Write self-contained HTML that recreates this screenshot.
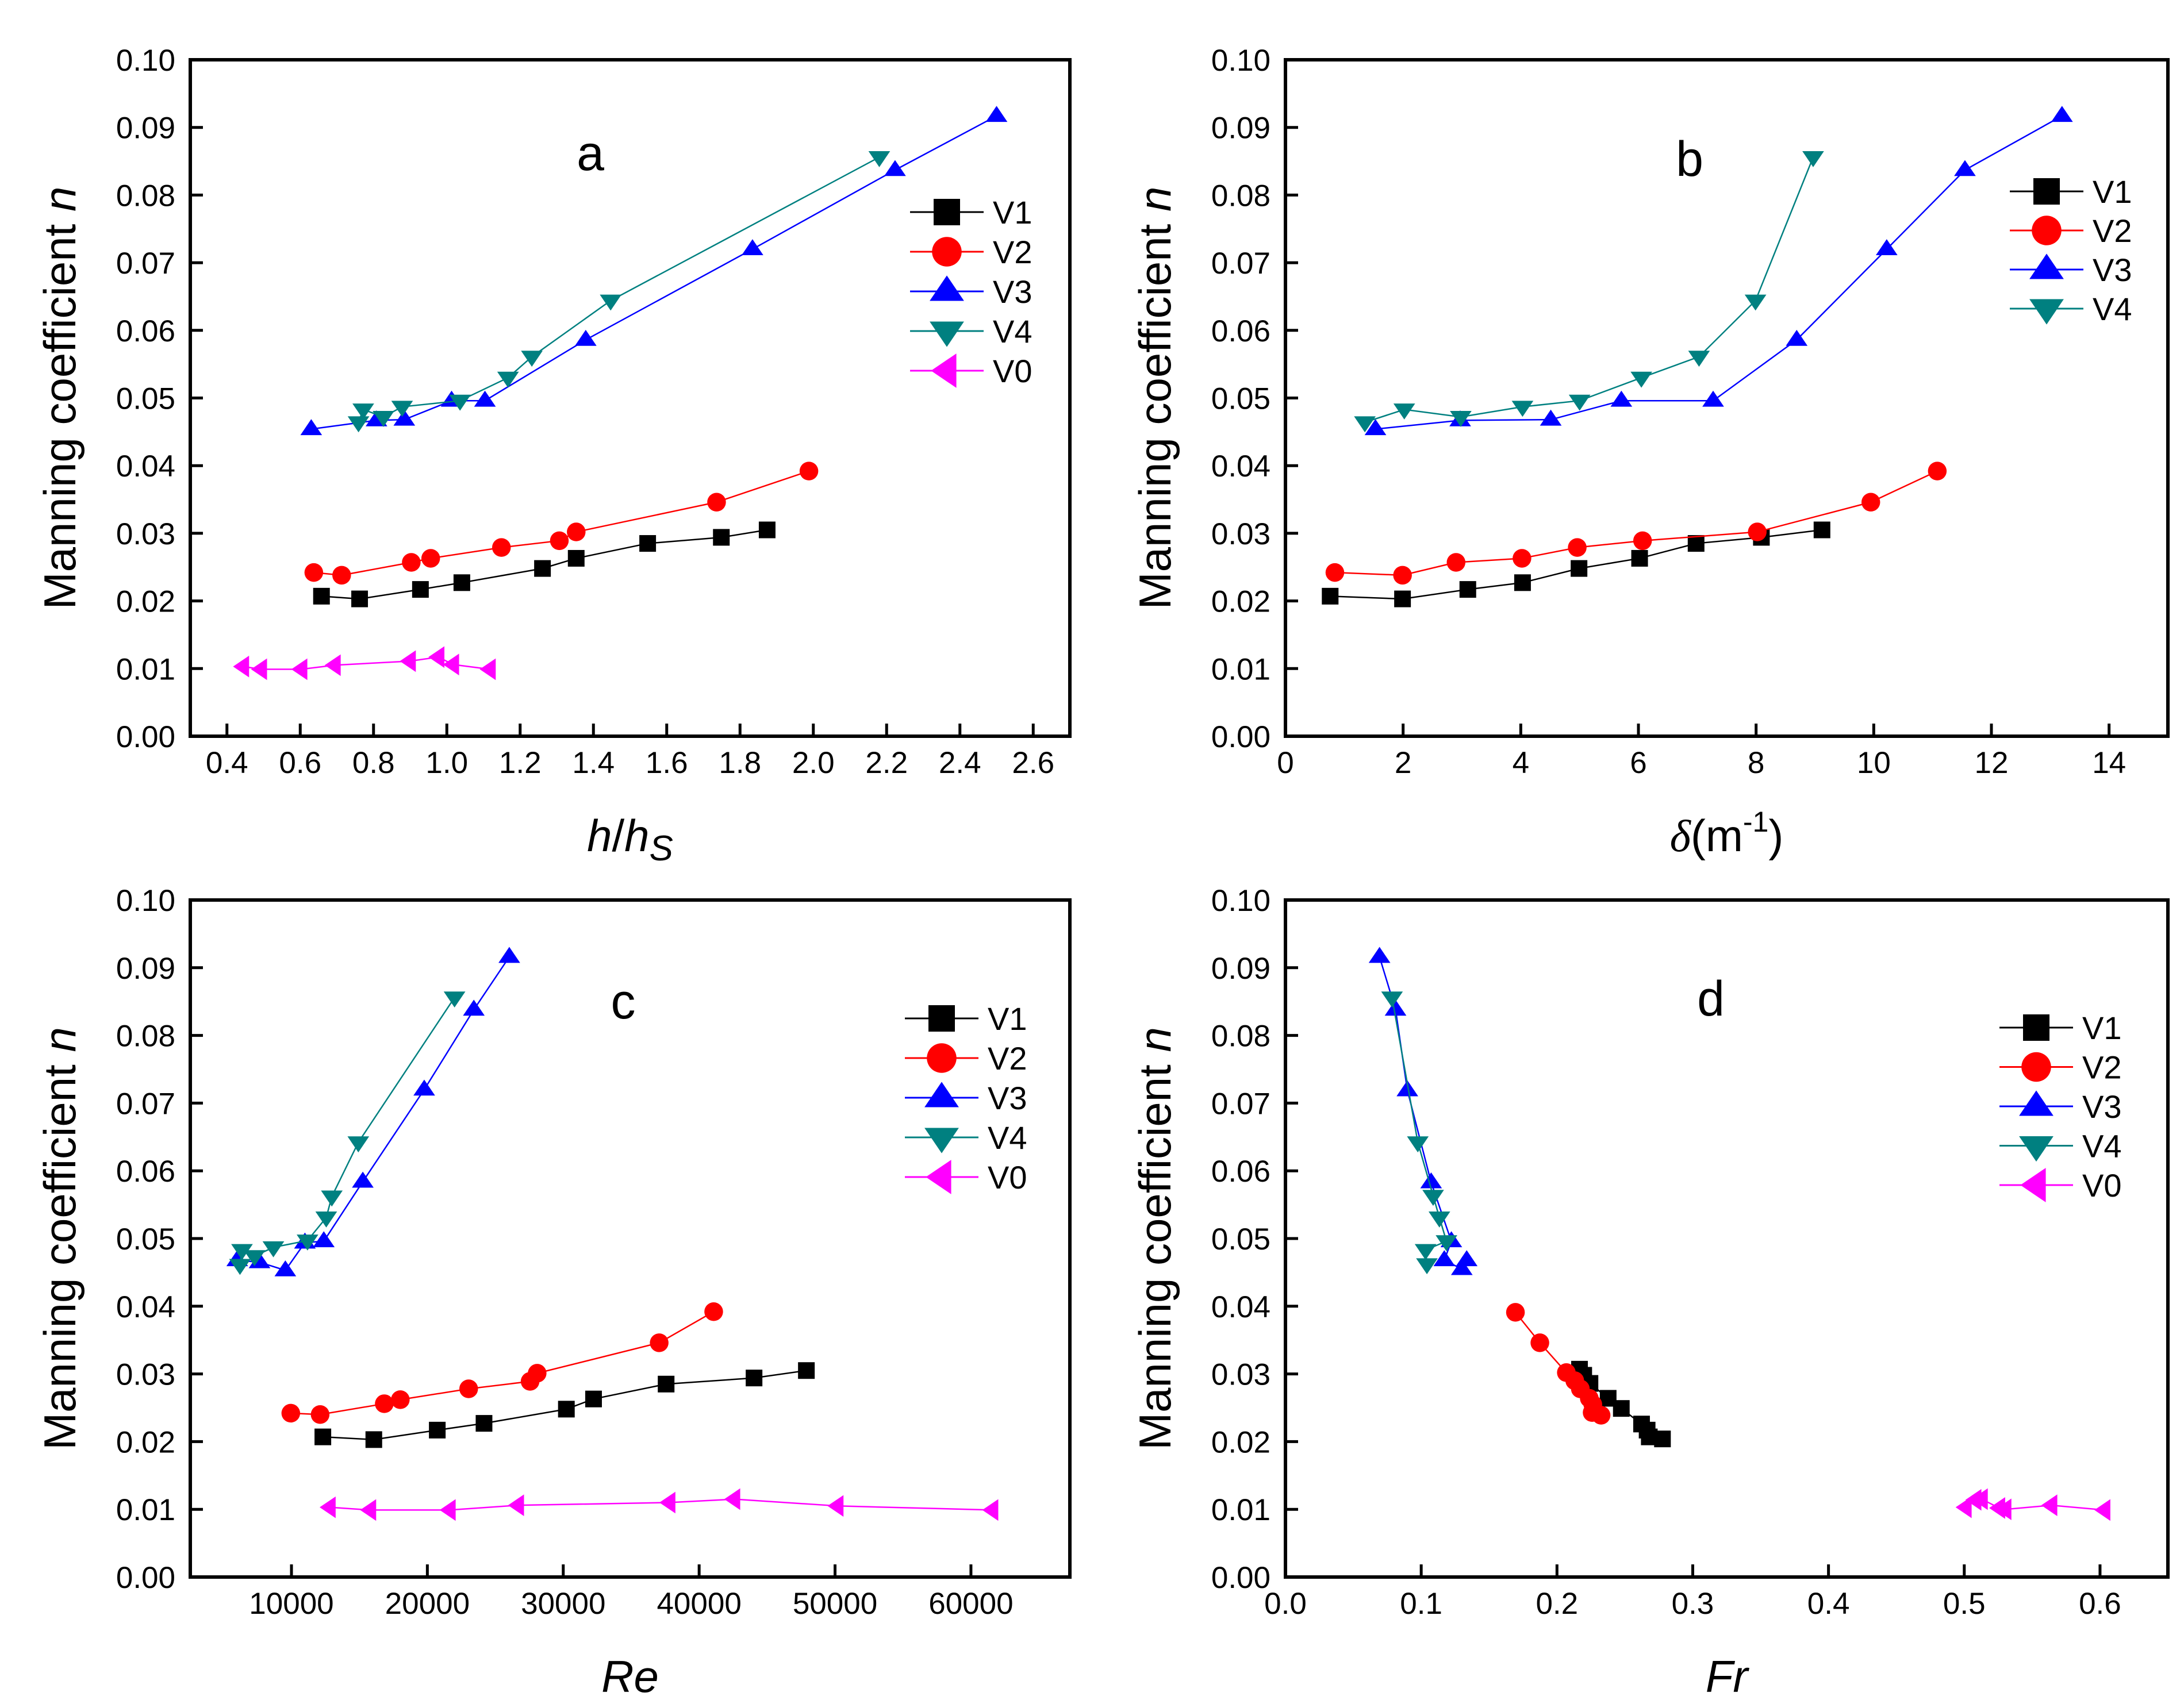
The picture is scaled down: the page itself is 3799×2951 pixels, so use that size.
<!DOCTYPE html>
<html><head><meta charset="utf-8"><style>
html,body{margin:0;padding:0;background:#fff}
svg{display:block}
text{font-family:"Liberation Sans",Arial,sans-serif}
</style></head><body>
<svg id="chart" width="3799" height="2951" viewBox="0 0 3799 2951" xmlns="http://www.w3.org/2000/svg"></svg>
<script>
// ---------- data ----------
// Panel a: n vs h/hs
const aV1x=[0.658,0.762,0.928,1.041,1.261,1.353,1.548,1.749,1.874];
const aV2x=[0.637,0.713,0.903,0.956,1.149,1.307,1.353,1.736,1.988];
const aV3x=[0.630,0.808,0.884,1.013,1.104,1.379,1.834,2.223,2.500];
const aV4x=[0.759,0.772,0.827,0.878,1.036,1.167,1.232,1.447,2.180];
const aV0x=[0.444,0.493,0.603,0.694,0.899,0.977,1.017,1.117];
const nV1=[0.0207,0.0203,0.0217,0.0227,0.0248,0.0263,0.0285,0.0294,0.0305];
const nV2=[0.0242,0.0238,0.0257,0.0263,0.0279,0.0289,0.0302,0.0346,0.0392];
const nV3=[0.0454,0.0467,0.0468,0.0496,0.0496,0.0586,0.0720,0.0837,0.0917];
const nV4=[0.0464,0.0483,0.0472,0.0487,0.0496,0.0530,0.0561,0.0644,0.0856];
const nV0=[0.0103,0.0099,0.0099,0.0105,0.0111,0.0117,0.0106,0.0099];
// Panel b: n vs delta
const bV1x=[0.76,1.99,3.10,4.03,4.99,6.02,6.98,8.09,9.12];
const bV2x=[0.84,1.99,2.90,4.02,4.96,6.07,8.02,9.95,11.08];
const bV3x=[1.53,2.97,4.51,5.71,7.27,8.69,10.22,11.55,13.20];
const bV4x=[1.35,2.02,2.98,4.03,5.00,6.05,7.03,7.99,8.97];
// Panel c: n vs Re
const cV1x=[12310,16060,20730,24170,30230,32230,37570,44040,47890];
const cV2x=[9950,12110,16830,18010,23040,27560,28080,37060,41070];
const cV2y=[0.0242,0.0240,0.0256,0.0262,0.0278,0.0289,0.0301,0.0346,0.0392];
const cV3x=[6010,7650,9550,10990,12380,15250,19770,23420,26030];
const cV3y=[0.0468,0.0465,0.0453,0.0494,0.0496,0.0584,0.0720,0.0838,0.0916];
const cV4x=[6210,6360,7280,8670,11180,12560,12970,14920,22000];
const cV4y=[0.0461,0.0483,0.0474,0.0487,0.0497,0.0531,0.0562,0.0642,0.0856];
const cV0x=[12810,15790,21640,26670,37810,42580,50180,61570];
const cV0y=[0.0103,0.0099,0.0099,0.0106,0.0110,0.0115,0.0105,0.0099];
// Panel d: n vs Fr
const dV1x=[0.2166,0.2197,0.2243,0.2377,0.2474,0.2623,0.2664,0.2680,0.2777];
const dV1y=[0.0307,0.0298,0.0286,0.0264,0.0249,0.0226,0.0217,0.0207,0.0204];
const dV2x=[0.1694,0.1874,0.2069,0.2131,0.2172,0.2238,0.2264,0.2259,0.2325];
const dV2y=[0.0391,0.0346,0.0302,0.0290,0.0278,0.0264,0.0255,0.0243,0.0239];
const dV3x=[0.0693,0.0811,0.0898,0.1073,0.1222,0.1170,0.1299,0.1335];
const dV3y=[0.0916,0.0838,0.0719,0.0583,0.0496,0.0468,0.0455,0.0468];
const dV4x=[0.0785,0.0975,0.1088,0.1134,0.1186,0.1032,0.1042];
const dV4y=[0.0856,0.0642,0.0563,0.0531,0.0496,0.0483,0.0462];
const dV0x=[0.5010,0.5082,0.5129,0.5257,0.5303,0.5641,0.6032];
const dV0y=[0.0103,0.0114,0.0115,0.0102,0.0100,0.0106,0.0099];
// ticks
const yTicks=[0,0.01,0.02,0.03,0.04,0.05,0.06,0.07,0.08,0.09,0.10];
const yTickLabels=["0.00","0.01","0.02","0.03","0.04","0.05","0.06","0.07","0.08","0.09","0.10"];
const aTicks=[0.4,0.6,0.8,1.0,1.2,1.4,1.6,1.8,2.0,2.2,2.4,2.6];
const aTickLabels=["0.4","0.6","0.8","1.0","1.2","1.4","1.6","1.8","2.0","2.2","2.4","2.6"];
const bTicks=[0,2,4,6,8,10,12,14];
const bTickLabels=["0","2","4","6","8","10","12","14"];
const cTicks=[10000,20000,30000,40000,50000,60000];
const cTickLabels=["10000","20000","30000","40000","50000","60000"];
const dTicks=[0,0.1,0.2,0.3,0.4,0.5,0.6];
const dTickLabels=["0.0","0.1","0.2","0.3","0.4","0.5","0.6"];

const NS="http://www.w3.org/2000/svg";
const svg=document.getElementById('chart');
function mk(tag,attrs,parent){const e=document.createElementNS(NS,tag);for(const k in attrs)e.setAttribute(k,attrs[k]);(parent||svg).appendChild(e);return e;}
const COLORS={V1:"#000000",V2:"#ff0000",V3:"#0000ff",V4:"#008080",V0:"#ff00ff"};
function marker(type,cx,cy,s,color,parent){
  let e;
  if(type==='V1'){e=mk('rect',{x:cx-s/2,y:cy-s/2,width:s,height:s,fill:color},parent);}
  else if(type==='V2'){e=mk('circle',{cx:cx,cy:cy,r:s*0.56,fill:color},parent);}
  else if(type==='V3'){const w=s*0.65,h=s*0.6;e=mk('polygon',{points:`${cx},${cy-h} ${cx-w},${cy+h*0.6} ${cx+w},${cy+h*0.6}`,fill:color},parent);}
  else if(type==='V4'){const w=s*0.65,h=s*0.6;e=mk('polygon',{points:`${cx},${cy+h} ${cx-w},${cy-h*0.6} ${cx+w},${cy-h*0.6}`,fill:color},parent);}
  else {const w=s*0.6,h=s*0.65;e=mk('polygon',{points:`${cx-w},${cy} ${cx+w*0.6},${cy-h} ${cx+w*0.6},${cy+h}`,fill:color},parent);}
  return e;
}
function panel(p){
  const g=mk('g',{});
  
  
  const X=v=>p.L+(v-p.xmin)/(p.xmax-p.xmin)*(p.R-p.L);
  const Y=v=>p.B-(v-0)/(0.1-0)*(p.B-p.T);
  yTicks.forEach((t,i)=>{
    const ln=mk('line',{x1:p.L,x2:p.L+22,y1:Y(t),y2:Y(t),stroke:'#000','stroke-width':5},g);
    
    
    const tx=mk('text',{x:p.L-26,y:Y(t)+19,'font-size':53,'text-anchor':'end'},g);
    tx.textContent=yTickLabels[i];
    
    
  });
  p.ticks.forEach((t,i)=>{
    const ln=mk('line',{x1:X(t),x2:X(t),y1:p.B,y2:p.B-22,stroke:'#000','stroke-width':5},g);
    
    
    const tx=mk('text',{x:X(t),y:p.B+64,'font-size':53,'text-anchor':'middle'},g);
    tx.textContent=p.tickLabels[i];
    
    
  });
  p.series.forEach(s=>{
    const sg=mk('g',{},g);
    
    
    const pts=s.x.map((v,i)=>X(v)+','+Y(s.y[i])).join(' ');
    mk('polyline',{points:pts,fill:'none',stroke:COLORS[s.k],'stroke-width':2.5},sg);
    s.x.forEach((v,i)=>{
      const m=marker(s.k,X(v),Y(s.y[i]),29,COLORS[s.k],sg);
      
      
    });
  });
  const fr=mk('rect',{x:p.L,y:p.T,width:p.R-p.L,height:p.B-p.T,fill:'none',stroke:'#000','stroke-width':6},g);
  
  
  const lt=mk('text',{x:p.letter[0],y:p.letter[1],'font-size':86,'text-anchor':'middle'},g);
  lt.textContent=p.id;
  
  
  const yt=mk('text',{x:0,y:0,'font-size':78,'text-anchor':'middle',transform:`translate(${p.L-200},${(p.T+p.B)/2}) rotate(-90)`},g);
  yt.innerHTML='Manning coefficient <tspan font-style="italic">n</tspan>';
  
  
  const xt=mk('text',{x:(p.L+p.R)/2,y:p.B+200,'font-size':78,'text-anchor':'middle'},g);
  xt.innerHTML=p.xtitle;
  
  
  const lg=mk('g',{},g);
  
  
  p.series.forEach((s,i)=>{
    const y=p.leg[1]+i*p.leg[2];
    const e=mk('g',{},lg);
    
    
    mk('line',{x1:p.leg[0]-64,x2:p.leg[0]+64,y1:y,y2:y,stroke:COLORS[s.k],'stroke-width':3},e);
    marker(s.k,p.leg[0],y,46,COLORS[s.k],e);
    const t=mk('text',{x:p.leg[0]+80,y:y+20,'font-size':56},e);
    t.textContent=s.k;
  });
}
panel({id:'a',L:331,R:1861,T:104,B:1281,xmin:0.3,xmax:2.7,ticks:aTicks,tickLabels:aTickLabels,
  letter:[1027,296],xtitle:'<tspan font-style="italic">h</tspan>/<tspan font-style="italic">h</tspan><tspan font-style="italic" font-size="62" dy="16">S</tspan>',
  leg:[1647,369,69],
  series:[{k:'V1',x:aV1x,y:nV1},{k:'V2',x:aV2x,y:nV2},{k:'V3',x:aV3x,y:nV3},{k:'V4',x:aV4x,y:nV4},{k:'V0',x:aV0x,y:nV0}]});
panel({id:'b',L:2236,R:3771,T:104,B:1281,xmin:0,xmax:15,ticks:bTicks,tickLabels:bTickLabels,
  letter:[2939,306],xtitle:'<tspan font-family="Liberation Serif" font-style="italic">δ</tspan>(m<tspan font-size="50" dy="-34">-1</tspan><tspan dy="34">)</tspan>',
  leg:[3560,333,68],
  series:[{k:'V1',x:bV1x,y:nV1},{k:'V2',x:bV2x,y:nV2},{k:'V3',x:bV3x,y:nV3},{k:'V4',x:bV4x,y:nV4}]});
panel({id:'c',L:331,R:1861,T:1566,B:2744,xmin:2555,xmax:67280,ticks:cTicks,tickLabels:cTickLabels,
  letter:[1084,1772],xtitle:'<tspan font-style="italic">Re</tspan>',
  leg:[1638,1772,69],
  series:[{k:'V1',x:cV1x,y:nV1},{k:'V2',x:cV2x,y:cV2y},{k:'V3',x:cV3x,y:cV3y},{k:'V4',x:cV4x,y:cV4y},{k:'V0',x:cV0x,y:cV0y}]});
panel({id:'d',L:2236,R:3771,T:1566,B:2744,xmin:0,xmax:0.65,ticks:dTicks,tickLabels:dTickLabels,
  letter:[2976,1767],xtitle:'<tspan font-style="italic">Fr</tspan>',
  leg:[3542,1788,68.5],
  series:[{k:'V1',x:dV1x,y:dV1y},{k:'V2',x:dV2x,y:dV2y},{k:'V3',x:dV3x,y:dV3y},{k:'V4',x:dV4x,y:dV4y},{k:'V0',x:dV0x,y:dV0y}]});
</script>
</body></html>
